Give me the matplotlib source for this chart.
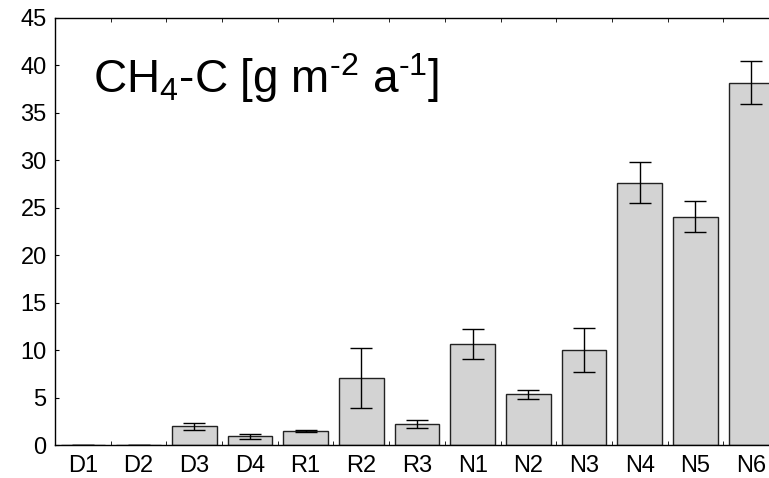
import numpy as np
import matplotlib
matplotlib.use("Agg")
import matplotlib.pyplot as plt

# values
sites = ["D1", "D2", "D3", "D4", "R1", "R2", "R3", "N1", "N2", "N3", "N4", "N5", "N6"]
ch4 = [0.03, 0.05, 1.95, 0.9, 1.45, 7.05, 2.23, 10.65, 5.34, 10.04, 27.65, 24.05, 38.2]
err = [0.0, 0.0, 0.35, 0.3, 0.12, 3.13, 0.4, 1.6, 0.49, 2.32, 2.15, 1.65, 2.25]
yticks = [0, 5, 10, 15, 20, 25, 30, 35, 40, 45]

plt.rcParams["font.family"] = ["Liberation Sans", "DejaVu Sans"]
plt.rcParams["mathtext.fontset"] = "custom"
plt.rcParams["mathtext.rm"] = "Liberation Sans"
plt.rcParams["mathtext.it"] = "Liberation Sans"

fig = plt.figure(figsize=(7.69, 4.78), dpi=100)
# axes runs a bit past the right edge of the picture, like the original
ax = fig.add_axes([55 / 769, 33 / 478, 724 / 769, 427 / 478])

x = np.arange(len(sites))
ax.bar(x, ch4, width=0.8, color="#d3d3d3", edgecolor="#222222", linewidth=1.0, zorder=2)
ax.errorbar(x, ch4, yerr=err, fmt="none", ecolor="black", elinewidth=1.0,
            capsize=8, capthick=1.0, zorder=3)

ax.set_xlim(-0.5, len(sites) - 0.5)
ax.set_ylim(0, 45)
ax.set_yticks(yticks)
ax.set_xticks(x)
ax.set_xticklabels(sites)
ax.set_xticks(np.arange(len(sites) + 1) - 0.5, minor=True)

ax.tick_params(axis="x", which="major", length=0, pad=7, labelsize=17)
ax.tick_params(axis="x", which="minor", direction="in", length=3, top=True, bottom=True)
ax.tick_params(axis="y", which="major", direction="in", length=3, pad=6, labelsize=17)
ax.spines["right"].set_visible(False)
for s in ["left", "bottom", "top"]:
    ax.spines[s].set_linewidth(1.0)

ax.text(0.18, 37.1, r"CH$_4$-C [g m$^{\text{-}2}$ a$^{\text{-}1}$]", fontsize=33,
        va="baseline", ha="left")

fig.savefig("out.png", dpi=100)
